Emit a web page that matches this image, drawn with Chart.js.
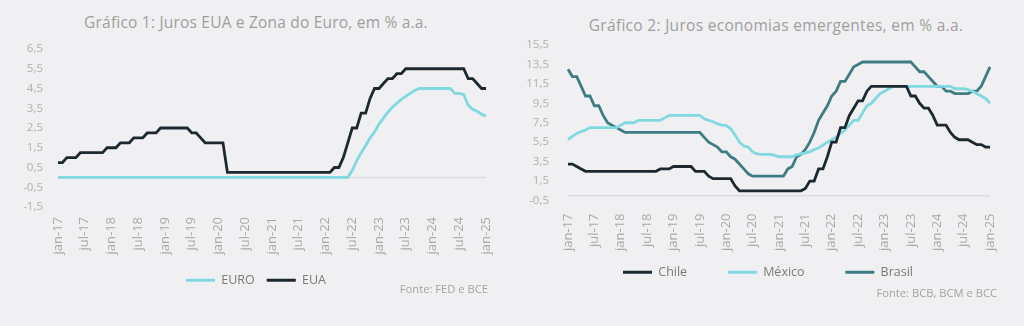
<!DOCTYPE html>
<html lang="pt-BR">
<head>
<meta charset="utf-8">
<script src="https://cdn.jsdelivr.net/npm/chart.js@4.4.1/dist/chart.umd.min.js"></script>
<style>
  html, body { margin: 0; padding: 0; background: #f0f0f2; }
  body { width: 1024px; height: 326px; position: relative; overflow: hidden; font-family: 'Open Sans', sans-serif; }
  .box { position: absolute; top: 0; width: 512px; height: 326px; }
  #box1 { left: 0; }
  #box2 { left: 512px; }
  .titulo { position: absolute; width: 512px; text-align: center; font-size: 15.5px; letter-spacing: 0.2px; line-height: 20px; color: #9e9e9e; white-space: nowrap; }
  #titulo1 { left: 0; top: 12px; }
  #titulo2 { left: 520px; top: 15px; letter-spacing: 0.3px; }
  .fonte { position: absolute; font-size: 11.2px; line-height: 12px; color: #a3a3a3; white-space: nowrap; }
  #fonte1 { right: 536px; top: 283px; }
  #fonte2 { right: 27px; top: 287px; }
</style>
</head>
<body>
<div class="titulo" id="titulo1">Gráfico 1: Juros EUA e Zona do Euro, em % a.a.</div>
<div class="titulo" id="titulo2">Gráfico 2: Juros economias emergentes, em % a.a.</div>
<div class="box" id="box1"><canvas id="grafico_eua_euro" width="512" height="326"></canvas></div>
<div class="box" id="box2"><canvas id="grafico_emergentes" width="512" height="326"></canvas></div>
<div class="fonte" id="fonte1">Fonte: FED e BCE</div>
<div class="fonte" id="fonte2">Fonte: BCB, BCM e BCC</div>
<script>
// meses jan-17 .. jan-25 (mensal)
const MESES = ['jan', 'fev', 'mar', 'abr', 'mai', 'jun', 'jul', 'ago', 'set', 'out', 'nov', 'dez'];
const ANOS = ['17', '18', '19', '20', '21', '22', '23', '24', '25'];
const CATEGORIAS = [];
ANOS.forEach(a => MESES.forEach(m => CATEGORIAS.push(m + '-' + a)));
CATEGORIAS.length = 97;

// Gráfico 1
const EURO = [
    0, 0, 0, 0, 0, 0, 0, 0, 0, 0, 0, 0,
    0, 0, 0, 0, 0, 0, 0, 0, 0, 0, 0, 0,
    0, 0, 0, 0, 0, 0, 0, 0, 0, 0, 0, 0,
    0, 0, 0, 0, 0, 0, 0, 0, 0, 0, 0, 0,
    0, 0, 0, 0, 0, 0, 0, 0, 0, 0, 0, 0,
    0, 0, 0, 0, 0, 0, 0.35, 0.85, 1.25, 1.6, 2.0, 2.3,
    2.7, 3.0, 3.3, 3.55, 3.75, 3.95, 4.1, 4.25, 4.4, 4.5, 4.5, 4.5,
    4.5, 4.5, 4.5, 4.5, 4.5, 4.25, 4.25, 4.2, 3.65, 3.45, 3.35, 3.2,
    3.1
];
const EUA = [
    0.75, 0.75, 1.0, 1.0, 1.0, 1.25, 1.25, 1.25, 1.25, 1.25, 1.25, 1.5,
    1.5, 1.5, 1.75, 1.75, 1.75, 2.0, 2.0, 2.0, 2.25, 2.25, 2.25, 2.5,
    2.5, 2.5, 2.5, 2.5, 2.5, 2.5, 2.25, 2.25, 2.0, 1.75, 1.75, 1.75,
    1.75, 1.75, 0.25, 0.25, 0.25, 0.25, 0.25, 0.25, 0.25, 0.25, 0.25, 0.25,
    0.25, 0.25, 0.25, 0.25, 0.25, 0.25, 0.25, 0.25, 0.25, 0.25, 0.25, 0.25,
    0.25, 0.25, 0.5, 0.5, 1.0, 1.75, 2.5, 2.5, 3.25, 3.25, 4.0, 4.5,
    4.5, 4.75, 5.0, 5.0, 5.25, 5.25, 5.5, 5.5, 5.5, 5.5, 5.5, 5.5,
    5.5, 5.5, 5.5, 5.5, 5.5, 5.5, 5.5, 5.5, 5.0, 5.0, 4.75, 4.5,
    4.5
];
const Y1_TICKS = [-1.5, -0.5, 0.5, 1.5, 2.5, 3.5, 4.5, 5.5, 6.5];

// Gráfico 2
const CHILE = [
    3.25, 3.25, 3.0, 2.75, 2.5, 2.5, 2.5, 2.5, 2.5, 2.5, 2.5, 2.5,
    2.5, 2.5, 2.5, 2.5, 2.5, 2.5, 2.5, 2.5, 2.5, 2.75, 2.75, 2.75,
    3.0, 3.0, 3.0, 3.0, 3.0, 2.5, 2.5, 2.5, 2.0, 1.75, 1.75, 1.75,
    1.75, 1.75, 1.0, 0.5, 0.5, 0.5, 0.5, 0.5, 0.5, 0.5, 0.5, 0.5,
    0.5, 0.5, 0.5, 0.5, 0.5, 0.5, 0.75, 1.5, 1.5, 2.75, 2.75, 4.0,
    5.5, 5.5, 7.0, 7.0, 8.25, 9.0, 9.75, 9.75, 10.75, 11.25, 11.25, 11.25,
    11.25, 11.25, 11.25, 11.25, 11.25, 11.25, 10.25, 10.25, 9.5, 9.0, 9.0, 8.25,
    7.25, 7.25, 7.25, 6.5, 6.0, 5.75, 5.75, 5.75, 5.5, 5.25, 5.25, 5.0,
    5.0
];
const MEXICO = [
    5.75, 6.1, 6.4, 6.6, 6.75, 7.0, 7.0, 7.0, 7.0, 7.0, 7.0, 7.0,
    7.25, 7.5, 7.5, 7.5, 7.75, 7.75, 7.75, 7.75, 7.75, 7.75, 8.0, 8.25,
    8.25, 8.25, 8.25, 8.25, 8.25, 8.25, 8.25, 7.9, 7.75, 7.6, 7.4, 7.25,
    7.2, 6.9, 6.25, 5.5, 5.1, 5.0, 4.5, 4.3, 4.25, 4.25, 4.25, 4.15,
    4.0, 4.0, 4.0, 4.0, 4.2, 4.3, 4.4, 4.5, 4.75, 4.9, 5.2, 5.5,
    5.75, 6.0, 6.4, 6.75, 7.25, 7.75, 7.75, 8.5, 9.25, 9.5, 10.0, 10.5,
    10.75, 11.0, 11.25, 11.25, 11.25, 11.25, 11.25, 11.25, 11.25, 11.25, 11.25, 11.25,
    11.25, 11.25, 11.25, 11.25, 11.0, 11.0, 11.0, 10.9, 10.75, 10.5, 10.25, 10.0,
    9.5
];
const BRASIL = [
    13.0, 12.25, 12.25, 11.25, 10.25, 10.25, 9.25, 9.25, 8.25, 7.5, 7.25, 7.0,
    6.75, 6.5, 6.5, 6.5, 6.5, 6.5, 6.5, 6.5, 6.5, 6.5, 6.5, 6.5,
    6.5, 6.5, 6.5, 6.5, 6.5, 6.5, 6.5, 6.0, 5.5, 5.25, 5.0, 4.5,
    4.5, 4.0, 3.75, 3.25, 2.75, 2.25, 2.0, 2.0, 2.0, 2.0, 2.0, 2.0,
    2.0, 2.0, 2.75, 3.0, 4.0, 4.25, 4.75, 5.5, 6.5, 7.75, 8.5, 9.25,
    10.25, 10.75, 11.75, 11.75, 12.5, 13.25, 13.5, 13.75, 13.75, 13.75, 13.75, 13.75,
    13.75, 13.75, 13.75, 13.75, 13.75, 13.75, 13.75, 13.25, 12.75, 12.75, 12.25, 11.75,
    11.25, 11.25, 10.75, 10.75, 10.5, 10.5, 10.5, 10.5, 10.75, 10.75, 11.25, 12.25,
    13.25
];
const Y2_TICKS = [-0.5, 1.5, 3.5, 5.5, 7.5, 9.5, 11.5, 13.5, 15.5];

const COR_ESCURA = '#1c2830';
const COR_CLARA = '#80d8e0';
const COR_TEAL = '#3d7c83';
const FONTE = "'Open Sans', sans-serif";

Chart.defaults.font.family = FONTE;
Chart.defaults.animation = false;

// linha do zero (eixo de categorias cruza em 0)
const linhaZero = {
    id: 'linhaZero',
    beforeDatasetsDraw(chart) {
        const {ctx, chartArea, scales} = chart;
        const y = scales.y.getPixelForValue(0);
        ctx.save();
        ctx.strokeStyle = '#dcdcdf';
        ctx.lineWidth = 1.5;
        ctx.beginPath();
        ctx.moveTo(chartArea.left, y);
        ctx.lineTo(chartArea.right, y);
        ctx.stroke();
        ctx.restore();
    }
};

function serie(label, data, cor) {
    return {
        label: label,
        data: data,
        borderColor: cor,
        backgroundColor: cor,
        borderWidth: 2.8,
        pointRadius: 0,
        tension: 0
    };
}

function config(datasets, ticksY, opts) {
    return {
        type: 'line',
        data: { labels: CATEGORIAS, datasets: datasets },
        plugins: [linhaZero],
        options: {
            responsive: false,
            layout: { padding: { top: opts.top, bottom: opts.bottom, left: 0, right: 0 } },
            scales: {
                x: {
                    grid: { display: false, drawTicks: false },
                    border: { display: false },
                    ticks: {
                        autoSkip: false,
                        minRotation: 90,
                        maxRotation: 90,
                        padding: opts.xPad,
                        color: '#a9a9a9',
                        font: { size: 13 },
                        callback: function (v, i) { return i % 6 === 0 ? this.getLabelForValue(v) : null; }
                    },
                    afterFit: s => { s.height = opts.xHeight; }
                },
                y: {
                    min: ticksY[0],
                    max: ticksY[ticksY.length - 1],
                    grid: { display: false, drawTicks: false },
                    border: { display: false },
                    ticks: {
                        padding: opts.yPad,
                        color: '#b0b0b0',
                        font: { size: 11.5 },
                        callback: v => v.toFixed(1).replace('.', ',')
                    },
                    afterBuildTicks: s => { s.ticks = ticksY.map(v => ({ value: v })); },
                    afterFit: s => { s.width = opts.yWidth; }
                },
                margemDireita: {
                    position: 'right',
                    grid: { display: false, drawTicks: false },
                    border: { display: false },
                    ticks: { display: false },
                    afterFit: s => { s.width = opts.right; }
                }
            },
            plugins: {
                title: { display: false },
                tooltip: { enabled: false },
                legend: {
                    position: 'bottom',
                    labels: {
                        boxWidth: 29,
                        boxHeight: 3,
                        padding: opts.legPad,
                        color: '#7a7a7a',
                        font: { size: 12.5 },
                        generateLabels: chart => Chart.defaults.plugins.legend.labels.generateLabels(chart)
                            .map((it, i, arr) => Object.assign(it, {
                                text: i < arr.length - 1 ? it.text + opts.legGap : it.text,
                                lineWidth: 0,
                                strokeStyle: 'rgba(0,0,0,0)'
                            }))
                    }
                }
            }
        }
    };
}

document.addEventListener('DOMContentLoaded', () => {
    const GRAFICO_1 = new Chart(
        document.getElementById('grafico_eua_euro'),
        config(
            [serie('EURO', EURO, COR_CLARA), serie('EUA', EUA, COR_ESCURA)],
            Y1_TICKS,
            { top: 49, bottom: 29.5, xHeight: 55, xPad: 10, yWidth: 58, yPad: 15, right: 26, legPad: 12, legGap: '' }
        )
    );
    const GRAFICO_2 = new Chart(
        document.getElementById('grafico_emergentes'),
        config(
            [serie('Chile', CHILE, COR_ESCURA), serie('México', MEXICO, COR_CLARA), serie('Brasil', BRASIL, COR_TEAL)],
            Y2_TICKS,
            { top: 45, bottom: 37.5, xHeight: 56, xPad: 13, yWidth: 56, yPad: 19, right: 34, legPad: 9.5, legGap: '\u2003\u2003\u2002' }
        )
    );
});
</script>
</body>
</html>
